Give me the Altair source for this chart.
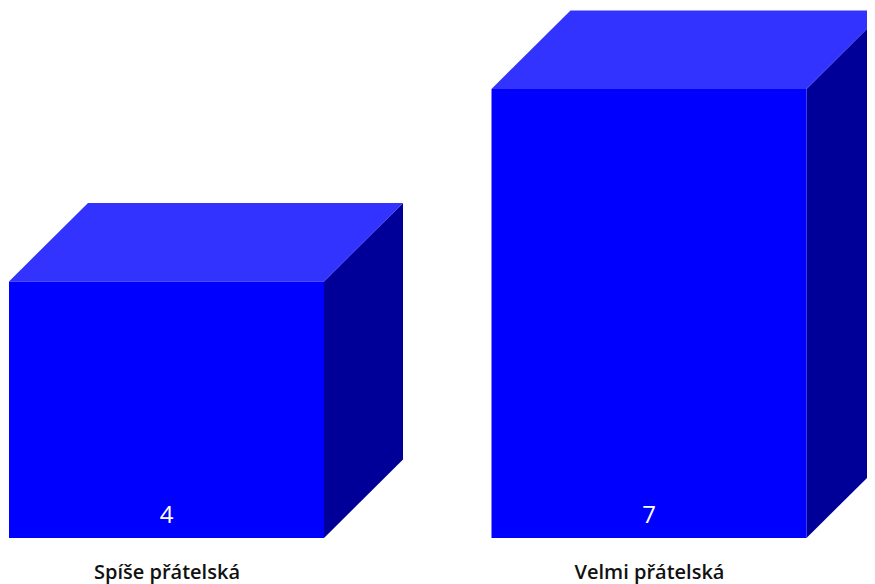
import altair as alt
import pandas as pd

categories = ["Spíše přátelská", "Velmi přátelská"]
values = [4, 7]

PX_X = 482.5
PX_Y = 64.15
half = 157.5 / PX_X
dx = 79 / PX_X
dy = 78.5 / PX_Y
x_dom = [-158.5 / PX_X, (859 - 158.5) / PX_X]
y_dom = [0, 530 / PX_Y]

front, top, side = [], [], []
for i, (c, v) in enumerate(zip(categories, values)):
    l, r = i - half, i + half
    front.append({"c": c, "x": l, "x2": r, "y": 0, "y2": v})
    top += [
        {"c": c, "x": l, "y": v, "y2": v},
        {"c": c, "x": l + dx, "y": v + dy, "y2": v},
        {"c": c, "x": r, "y": v + dy, "y2": v},
        {"c": c, "x": r + dx, "y": v + dy, "y2": v + dy},
    ]
    side += [
        {"c": c, "x": r, "y": v, "y2": 0},
        {"c": c, "x": r + dx, "y": v + dy, "y2": dy},
    ]
labels = [{"x": i, "y": 0, "t": str(v)} for i, v in enumerate(values)]

xs = alt.Scale(domain=x_dom, nice=False, zero=False)
ys = alt.Scale(domain=y_dom, nice=False, zero=False)
X = alt.X("x:Q", scale=xs, axis=alt.Axis(
    values=[0, 1], labelExpr="datum.value < 0.5 ? '%s' : '%s'" % tuple(categories),
    title=None, domain=False, ticks=False, grid=False, labelPadding=24,
    labelFont="Open Sans", labelFontSize=20, labelFontWeight=600, labelColor="#111111"))
Y = alt.Y("y:Q", scale=ys, axis=None, stack=None)

front_l = alt.Chart(pd.DataFrame(front)).mark_rect(color="#0000ff").encode(
    x=X, x2="x2:Q", y=Y, y2="y2:Q")
top_l = alt.Chart(pd.DataFrame(top)).mark_area(
    color="#3333ff", interpolate="linear", orient="vertical", opacity=1).encode(
    x=X, y=Y, y2="y2:Q", detail="c:N")
side_l = alt.Chart(pd.DataFrame(side)).mark_area(
    color="#000099", interpolate="linear", orient="vertical", opacity=1).encode(
    x=X, y=Y, y2="y2:Q", detail="c:N")
text_l = alt.Chart(pd.DataFrame(labels)).mark_text(
    color="white", font="Open Sans", fontSize=24, fontWeight=500, dy=-22).encode(x=X, y=Y, text="t:N")

chart = alt.layer(side_l, top_l, front_l, text_l).properties(
    width=859, height=530,
    padding={"left": 0, "top": 0, "right": 0, "bottom": 46},
    autosize=alt.AutoSizeParams(type="none"),
).configure_view(stroke=None)
chart.save("out.html", embed_options={"renderer": "svg", "actions": False})
